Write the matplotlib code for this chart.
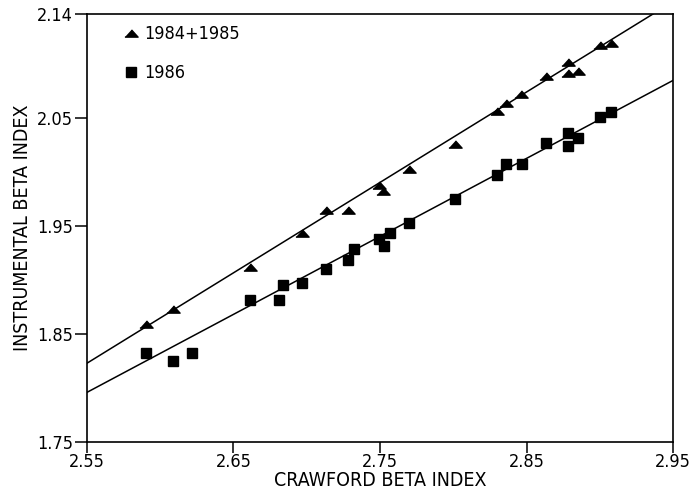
import matplotlib.pyplot as plt
from matplotlib.lines import Line2D

plt.rcParams['font.family'] = ['DejaVu Sans Condensed', 'Liberation Sans Narrow', 'DejaVu Sans']
plt.rcParams['font.stretch'] = 'condensed'

# 1984+1985 observations (triangles)
x_8485 = [2.590, 2.609, 2.661, 2.697, 2.713, 2.728, 2.749, 2.752, 2.770, 2.801,
          2.830, 2.836, 2.846, 2.863, 2.878, 2.878, 2.885, 2.900, 2.908]
y_8485 = [1.859, 1.873, 1.912, 1.944, 1.965, 1.965, 1.988, 1.983, 2.003, 2.026,
          2.057, 2.064, 2.072, 2.089, 2.102, 2.092, 2.094, 2.118, 2.120]

# 1986 observations (squares)
x_86 = [2.590, 2.609, 2.622, 2.661, 2.681, 2.684, 2.697, 2.713, 2.728, 2.732,
        2.749, 2.753, 2.757, 2.770, 2.801, 2.830, 2.836, 2.847, 2.863, 2.878,
        2.878, 2.885, 2.900, 2.908]
y_86 = [1.832, 1.825, 1.832, 1.882, 1.882, 1.895, 1.897, 1.910, 1.919, 1.929,
        1.938, 1.932, 1.944, 1.953, 1.975, 1.997, 2.008, 2.008, 2.027, 2.036,
        2.024, 2.032, 2.051, 2.056]

# fitted lines (end points)
fit_x = [2.55, 2.95]
fit_8485 = [1.823, 2.158]
fit_86 = [1.796, 2.085]

xticks = [2.55, 2.65, 2.75, 2.85, 2.95]
xticklabels = ["2.55", "2.65", "2.75", "2.85", "2.95"]
yticks = [1.75, 1.85, 1.95, 2.05, 2.147]
yticklabels = ["1.75", "1.85", "1.95", "2.05", "2.14"]

tri = [(-1, -0.55), (1, -0.55), (0, 0.55)]

fig = plt.figure(figsize=(6.97, 4.91), dpi=100)
ax = fig.add_axes([0.1248, 0.0998, 0.8408, 0.8727])

ax.plot(fit_x, fit_8485, c="k", lw=1.1)
ax.plot(fit_x, fit_86, c="k", lw=1.1)
ax.plot(x_8485, y_8485, ls="", marker=tri, ms=9.5, c="k")
ax.plot(x_86, y_86, ls="", marker="s", ms=6.5, c="k")

ax.set_xlim(2.55, 2.95)
ax.set_ylim(1.75, 2.147)
ax.set_xticks(xticks)
ax.set_xticklabels(xticklabels)
ax.set_yticks(yticks)
ax.set_yticklabels(yticklabels)
ax.tick_params(direction="out", length=9, width=1.1, labelsize=13, pad=1)
ax.tick_params(axis="x", length=8, pad=0)
for s in ax.spines.values():
    s.set_linewidth(1.2)

ax.set_xlabel("CRAWFORD BETA INDEX", fontsize=14, labelpad=0)
ax.set_ylabel("INSTRUMENTAL BETA INDEX", fontsize=14, labelpad=4)

handles = [Line2D([], [], ls="", marker=tri, ms=9.5, c="k"),
           Line2D([], [], ls="", marker="s", ms=6.5, c="k")]
ax.legend(handles, ["1984+1985", "1986"], loc="upper left", frameon=False,
          bbox_to_anchor=(0.035, 1.01), fontsize=13, labelspacing=1.15,
          handlelength=0.8, handletextpad=0.35)

fig.savefig("out.png", dpi=100)
